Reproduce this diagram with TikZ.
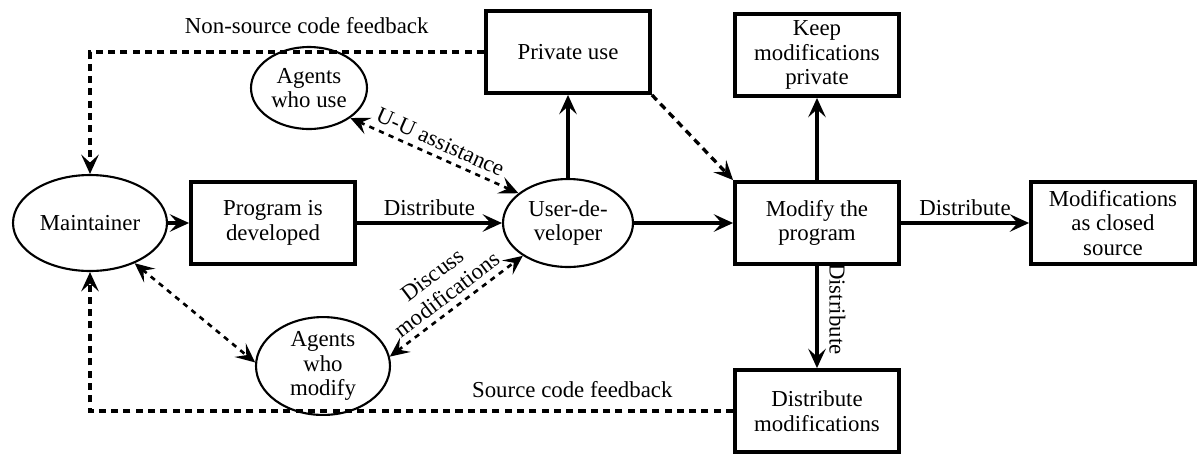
\documentclass[tikz,border=0pt]{standalone}
\usepackage{fontspec}
\setmainfont{Liberation Serif}
\usetikzlibrary{arrows.meta,shapes.geometric}

\begin{document}
\begin{tikzpicture}[x=0.02cm, y=-0.02cm, >={Stealth[length=11pt, width=10pt, inset=4.5pt]},
  every node/.style={font=\fontsize{13}{14}\selectfont},
  box/.style={rectangle, draw, line width=2.2pt, minimum width=3.28cm, minimum height=1.64cm, align=center},
  agent/.style={ellipse, draw, line width=1.2pt, align=center, inner sep=0pt},
  flow/.style={->, line width=2pt},
  fb/.style={->, line width=1.9pt, dash pattern=on 4pt off 3pt},
  talk/.style={<->, line width=1.5pt, dash pattern=on 3pt off 3pt}]

                  \useasboundingbox (0,0) rectangle (1198,454);

                  \node[agent, minimum width=3.08cm, minimum height=1.92cm] (maint) at (90,223) {Maintainer};
                  \node[box] (prog) at (273,223) {Program is\\developed};
                  \node[agent, minimum width=2.6cm, minimum height=1.76cm] (udev) at (568,223) {User-de-\\veloper};
                  \node[box] (priv) at (568,52) {Private use};
                  \node[agent, minimum width=2.32cm, minimum height=1.64cm] (ause) at (309,88) {Agents\\who use};
                  \node[box] (modify) at (817,223) {Modify the\\program};
                  \node[box] (keep) at (817,55) {Keep\\modifications\\private};
                  \node[box] (closed) at (1113,223) {Modifications\\as closed\\source};
                  \node[box] (distmod) at (817,411) {Distribute\\modifications};
                  \node[agent, minimum width=2.68cm, minimum height=1.88cm] (amod) at (323,366) {Agents\\who\\modify};

                  \draw[flow] (maint) -- (prog);
                  \draw[flow] (prog) -- node[above] {Distribute} (udev);
                  \draw[flow] (udev) -- (modify);
                  \draw[flow] (udev) -- (priv);
                  \draw[flow] (modify) -- (keep);
                  \draw[flow] (modify) -- node[above] {Distribute} (closed);
                  \draw[flow] (modify) -- node[rotate=-90, anchor=south, inner sep=6pt, pos=.42] {Distribute} (distmod);

                  \draw[fb] (priv.west) -- node[above=6pt, pos=.45] {Non-source code feedback} (priv.west -| maint.north) -- (maint.north);
                  \draw[fb] (distmod.west) -- node[above=3pt, pos=.25] {Source code feedback} (distmod.west -| maint.south) -- (maint.south);
                  \draw[fb] (priv.south east) -- (modify.north west);

                  \draw[talk] (ause.-36) -- node[above, sloped] {U-U assistance} (udev.149);
                  \draw[talk] (maint.-42) -- (amod.177);
                  \draw[talk] (amod.8) -- node[above, sloped, align=center] {Discuss\\modifications} (udev.-144);

            \end{tikzpicture}
\end{document}
